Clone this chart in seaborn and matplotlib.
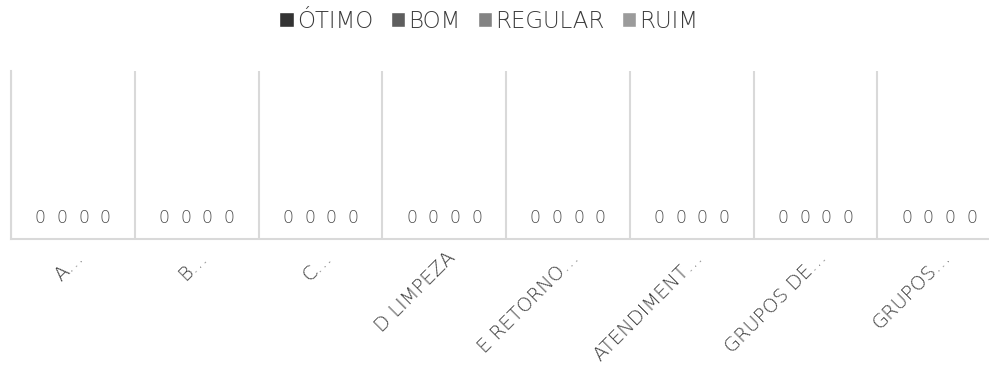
import matplotlib
matplotlib.use("Agg")
import matplotlib.pyplot as plt
import seaborn as sns
import pandas as pd
from matplotlib.transforms import ScaledTranslation

# Categories (truncated labels as shown on the axis) and rating series
categories = ["A…", "B…", "C…", "D LIMPEZA", "E RETORNO…",
              "ATENDIMENT…", "GRUPOS DE…", "GRUPOS…"]
series = ["ÓTIMO", "BOM", "REGULAR", "RUIM"]

otimo = [0, 0, 0, 0, 0, 0, 0, 0]
bom = [0, 0, 0, 0, 0, 0, 0, 0]
regular = [0, 0, 0, 0, 0, 0, 0, 0]
ruim = [0, 0, 0, 0, 0, 0, 0, 0]

colors = ["#333333", "#5e5e5e", "#838383", "#9b9b9b"]
text_color = "#3c3c3c"
grid_color = "#d9d9d9"

rows = []
for name, vals in zip(series, [otimo, bom, regular, ruim]):
    for cat, v in zip(categories, vals):
        rows.append({"categoria": cat, "avaliacao": name, "valor": v})
df = pd.DataFrame(rows)

sns.set_theme(style="white")
plt.rcParams["font.family"] = ["DejaVu Sans"]

W, H = 989, 383
fig = plt.figure(figsize=(W / 100, H / 100), dpi=100)
ax = fig.add_axes([11 / W, 1 - 239 / H, (1001 - 11) / W, (239 - 71) / H])

sns.barplot(data=df, x="categoria", y="valor", hue="avaliacao",
            order=categories, hue_order=series, palette=colors,
            width=0.7, ax=ax)

ax.set_ylim(0, 1)
ax.set_xlim(-0.5, len(categories) - 0.5)

# Value labels above each (zero-height) bar
for cont in ax.containers:
    ax.bar_label(cont, fmt="%d", padding=8.5, fontsize=12.5,
                 color="#4a4a4a", fontweight="light")

# Legend at the top of the figure
leg = ax.get_legend()
handles = leg.legend_handles
leg.remove()
fig.legend(handles, series, loc="center", bbox_to_anchor=(489 / W, 1 - 21 / H),
           ncol=4, frameon=False, handlelength=0.62,
           handleheight=0.62, handletextpad=0.15, columnspacing=0.75,
           prop={"family": "DejaVu Sans", "size": 16.5, "weight": "light"},
           labelcolor="#3a3a3a")

# Category separators
ax.set_xticks([i - 0.5 for i in range(len(categories) + 1)], minor=True)
ax.grid(which="minor", axis="x", color=grid_color, lw=1.5)
ax.grid(which="major", visible=False)
ax.tick_params(which="both", length=0)
ax.set_yticks([])
ax.set_xlabel("")
ax.set_ylabel("")

for side in ["top", "right"]:
    ax.spines[side].set_visible(False)
for side in ["left", "bottom"]:
    ax.spines[side].set_color(grid_color)
    ax.spines[side].set_linewidth(1.5)

# Rotated category labels, each ending just right of its category centre
ax.set_xticks(range(len(categories)))
ax.set_xticklabels(categories, rotation=45, ha="right", va="baseline",
                   rotation_mode="anchor", fontsize=14, color=text_color,
                   fontweight="light")
ax.tick_params(axis="x", pad=14)
offset = ScaledTranslation(12 / 100, 0, fig.dpi_scale_trans)
for lbl in ax.get_xticklabels():
    lbl.set_transform(lbl.get_transform() + offset)

fig.savefig("out.png", dpi=100)
